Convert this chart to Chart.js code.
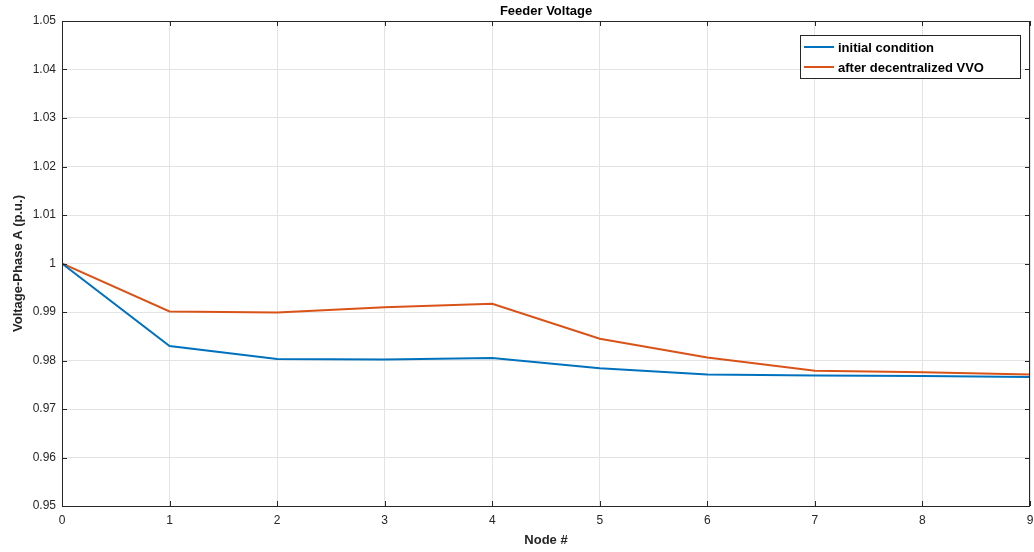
<!DOCTYPE html>
<html><head><meta charset="utf-8">
<script src="https://cdn.jsdelivr.net/npm/chart.js@4/dist/chart.umd.min.js"></script>
<style>html,body{margin:0;padding:0;background:#fff}#wrap{width:1034px;height:552px}</style>
</head><body><div id="wrap"><canvas id="c" width="1034" height="552"></canvas></div>
<script>
const nodes = [0,1,2,3,4,5,6,7,8,9];
const initialCondition = [1.0000,0.9830,0.9803,0.9802,0.9805,0.9784,0.9771,0.9769,0.9768,0.9766];
const afterVVO = [1.0000,0.9901,0.9899,0.9910,0.9917,0.9845,0.9806,0.9779,0.9776,0.9771];
const yTicks = [0.95,0.96,0.97,0.98,0.99,1,1.01,1.02,1.03,1.04,1.05];
const titleText = 'Feeder Voltage';
const xTitle = 'Node #';
const yTitle = 'Voltage-Phase A (p.u.)';
const seriesNames = ['initial condition','after decentralized VVO'];
const seriesColors = ['#0072BD','#D95319'];

const FONT = 'Liberation Sans, Arial, Helvetica, sans-serif';
const AX = '#262626';

const decor = {
  id:'decor',
  afterDraw(chart){
    const ctx = chart.ctx, a = chart.chartArea;
    const xs = chart.scales.x, ys = chart.scales.y;
    ctx.save();
    ctx.strokeStyle = AX; ctx.lineWidth = 1;
    ctx.strokeRect(Math.round(a.left)+0.5, Math.round(a.top)+0.5, Math.round(a.right-a.left)-1, Math.round(a.bottom-a.top));
    ctx.beginPath();
    const tl = 5;
    nodes.forEach(v=>{
      const x = Math.round(xs.getPixelForValue(v))+0.5;
      ctx.moveTo(x, a.bottom); ctx.lineTo(x, a.bottom-tl);
      ctx.moveTo(x, a.top); ctx.lineTo(x, a.top+tl);
    });
    yTicks.forEach(v=>{
      const y = Math.round(ys.getPixelForValue(v))+0.5;
      ctx.moveTo(a.left, y); ctx.lineTo(a.left+tl, y);
      ctx.moveTo(a.right, y); ctx.lineTo(a.right-tl, y);
    });
    ctx.stroke();
    ctx.fillStyle = '#000';
    ctx.font = 'bold 13px ' + FONT;
    ctx.textAlign = 'center'; ctx.textBaseline = 'middle';
    ctx.fillText(titleText, (a.left+a.right)/2, 11);
    const lx = 800, ly = 35, lw = 220, lh = 43;
    ctx.fillStyle = '#fff';
    ctx.fillRect(lx, ly, lw, lh);
    ctx.strokeStyle = AX; ctx.lineWidth = 1;
    ctx.strokeRect(lx+0.5, ly+0.5, lw, lh);
    ctx.font = 'bold 13px ' + FONT;
    ctx.textAlign = 'left';
    chart.data.datasets.forEach((ds,i)=>{
      const y = ly + 12 + i*20;
      ctx.strokeStyle = ds.borderColor; ctx.lineWidth = 2;
      ctx.beginPath(); ctx.moveTo(lx+4, y); ctx.lineTo(lx+34, y); ctx.stroke();
      ctx.fillStyle = '#000';
      ctx.fillText(ds.label, lx+38, y+1);
    });
    ctx.restore();
  }
};

new Chart(document.getElementById('c'), {
  type:'line',
  data:{
    datasets:[
      {label:seriesNames[0], data:nodes.map((n,i)=>({x:n,y:initialCondition[i]})), borderColor:seriesColors[0], borderWidth:2, pointRadius:0, tension:0, fill:false},
      {label:seriesNames[1], data:nodes.map((n,i)=>({x:n,y:afterVVO[i]})), borderColor:seriesColors[1], borderWidth:2, pointRadius:0, tension:0, fill:false}
    ]
  },
  options:{
    responsive:false, animation:false, devicePixelRatio:1,
    layout:{padding:{top:21,right:4,left:0,bottom:0}},
    plugins:{legend:{display:false}, title:{display:false}, tooltip:{enabled:false}},
    scales:{
      x:{type:'linear', min:0, max:9,
        afterBuildTicks(s){ s.ticks = nodes.map(v=>({value:v})); },
        afterFit(s){ s.height = 46; s.paddingRight = 0; s.paddingLeft = 0; },
        grid:{color:'#e3e3e3', lineWidth:1, drawTicks:false, tickLength:0},
        border:{display:false},
        ticks:{color:AX, font:{family:FONT,size:12}, padding:7, maxRotation:0, autoSkip:false},
        title:{display:true, text:xTitle, color:AX, font:{family:FONT,size:13,weight:'bold'}, padding:{top:2,bottom:4}}
      },
      y:{min:0.95, max:1.05,
        afterBuildTicks(s){ s.ticks = yTicks.map(v=>({value:v})); },
        afterFit(s){ s.width = 62; },
        grid:{color:'#e3e3e3', lineWidth:1, drawTicks:false, tickLength:0},
        border:{display:false},
        ticks:{color:AX, font:{family:FONT,size:12}, padding:6, autoSkip:false, callback:v=>String(Math.round(v*100)/100)},
        title:{display:true, text:yTitle, color:AX, font:{family:FONT,size:13,weight:'bold'}, padding:{top:11,bottom:6}}
      }
    }
  },
  plugins:[decor]
});
</script></body></html>
